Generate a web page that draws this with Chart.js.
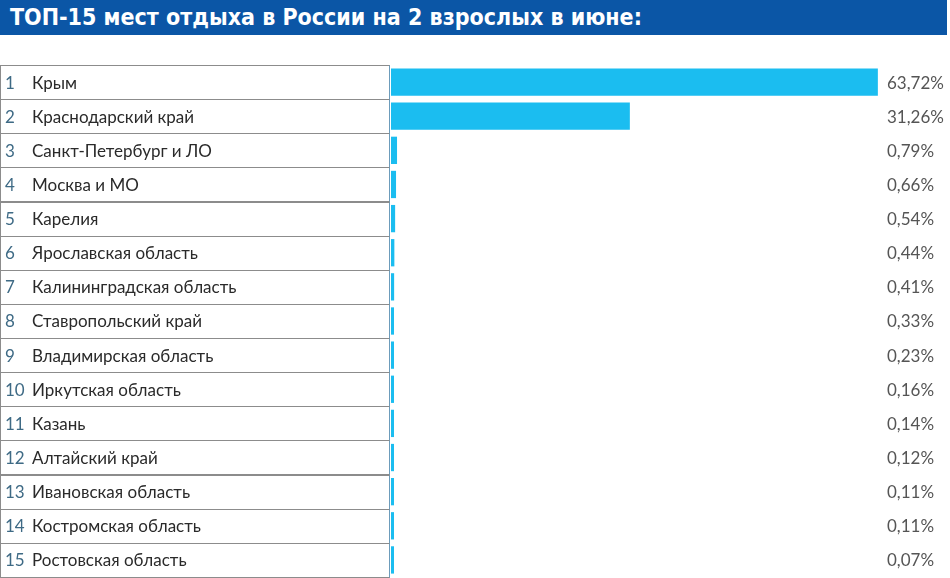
<!DOCTYPE html>
<html lang="ru">
<head>
<meta charset="utf-8">
<script src="https://cdn.jsdelivr.net/npm/chart.js@4/dist/chart.umd.min.js"></script>
<style>
  html, body { margin: 0; padding: 0; background: #fff; }
  #wrap { width: 950px; height: 578px; position: relative; overflow: hidden; }
  #zagolovok {
    height: 35px; width: 947px; background: #0b56a6; color: #fff;
    font-family: "Liberation Sans Narrow", "DejaVu Sans Condensed", sans-serif;
    font-stretch: condensed; font-weight: bold; font-size: 23px;
    line-height: 35px; padding-left: 10px; box-sizing: border-box;
  }
  #grafico { position: absolute; left: 0; top: 35px; }
</style>
</head>
<body>
<div id="wrap">
  <div id="zagolovok">ТОП-15 мест отдыха в России на 2 взрослых в июне:</div>
  <canvas id="grafico" width="950" height="543"></canvas>
</div>
<script>
// Dados do gráfico
const regioes = [
  'Крым', 'Краснодарский край', 'Санкт-Петербург и ЛО', 'Москва и МО', 'Карелия',
  'Ярославская область', 'Калининградская область', 'Ставропольский край',
  'Владимирская область', 'Иркутская область', 'Казань', 'Алтайский край',
  'Ивановская область', 'Костромская область', 'Ростовская область'
];
const percentuais = [63.72, 31.26, 0.79, 0.66, 0.54, 0.44, 0.41, 0.33, 0.23, 0.16, 0.14, 0.12, 0.11, 0.11, 0.07];

const formatar = v => v.toFixed(2).replace('.', ',') + '%';

// Plugin: caixas com número + nome à esquerda e valor à direita
const rotulos = {
  id: 'rotulos',
  afterDatasetsDraw(chart) {
    const ctx = chart.ctx;
    const y = chart.scales.y;
    const meio = (y.getPixelForValue(1) - y.getPixelForValue(0)) / 2;
    ctx.save();
    ctx.font = '17px Lato, "Open Sans", sans-serif';
    ctx.textBaseline = 'middle';
    regioes.forEach((nome, i) => {
      const cy = y.getPixelForValue(i);
      const topo = Math.round(cy - meio) + 0.5;
      const alt = Math.round(meio * 2);
      ctx.strokeStyle = '#8c8c8c';
      ctx.lineWidth = 1;
      ctx.strokeRect(0.5, topo, 389, alt);
      ctx.strokeStyle = '#6d9cbb';
      ctx.beginPath();
      ctx.moveTo(389.5, topo);
      ctx.lineTo(389.5, topo + alt);
      ctx.stroke();

      ctx.textAlign = 'left';
      ctx.fillStyle = '#3e6a85';
      ctx.fillText(String(i + 1), 5, cy + 1);
      ctx.fillStyle = '#2a2a2a';
      ctx.fillText(nome, 32, cy + 1);

      ctx.fillStyle = '#555';
      ctx.fillText(formatar(percentuais[i]), 887, cy + 1);
    });
    ctx.restore();
  }
};

new Chart(document.getElementById('grafico').getContext('2d'), {
  type: 'bar',
  data: {
    labels: regioes,
    datasets: [{
      data: percentuais,
      backgroundColor: '#1bbdf0',
      borderWidth: 0,
      barPercentage: 0.8,
      categoryPercentage: 1,
      minBarLength: 3
    }]
  },
  options: {
    indexAxis: 'y',
    responsive: false,
    animation: false,
    layout: { padding: { left: 391, right: 70, top: 30, bottom: 1 } },
    plugins: { legend: { display: false }, tooltip: { enabled: false } },
    scales: {
      x: { display: false, min: 0, max: 64 },
      y: { display: false }
    }
  },
  plugins: [rotulos]
});
</script>
</body>
</html>
